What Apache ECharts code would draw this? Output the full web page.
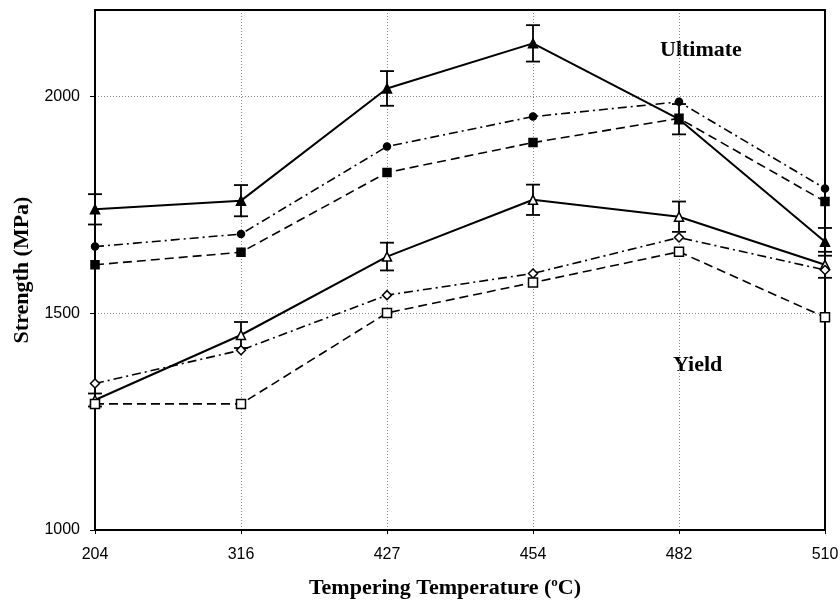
<!DOCTYPE html>
<html>
<head>
<meta charset="utf-8">
<script src="https://cdn.jsdelivr.net/npm/echarts@6/dist/echarts.min.js"></script>
<style>
  html, body { margin: 0; padding: 0; background: #fff; }
  #chart { width: 840px; height: 602px; }
</style>
</head>
<body>
<div id="chart"></div>
<script>
// Tempering temperatures (°C)
const temperatures = ['204', '316', '427', '454', '482', '510'];

// Ultimate tensile strength (MPa)
const ultimateA = [1740, 1760, 2019, 2123, 1948, 1665];
const ultimateAErr = [35, 36, 40, 42, 35, 32];
const ultimateB = [1654, 1683, 1885, 1954, 1988, 1788];
const ultimateC = [1612, 1641, 1825, 1894, 1950, 1758];

// Yield strength (MPa)
const yieldA = [1300, 1450, 1631, 1762, 1723, 1612];
const yieldAErr = [15, 30, 32, 35, 35, 30];
const yieldB = [1338, 1415, 1542, 1592, 1675, 1600];
const yieldC = [1291, 1291, 1501, 1571, 1642, 1491];

const yTicks = [1000, 1500, 2000];

const chart = echarts.init(document.getElementById('chart'));

function errorBars(values, errs) {
  return {
    type: 'custom',
    silent: true,
    z: 5,
    data: values.map((v, i) => [i, v - errs[i], v + errs[i]]),
    renderItem: function (params, api) {
      const lo = api.coord([api.value(0), api.value(1)]);
      const hi = api.coord([api.value(0), api.value(2)]);
      const cap = 7;
      const st = { stroke: '#000', lineWidth: 1.8 };
      return {
        type: 'group',
        children: [
          { type: 'line', shape: { x1: hi[0], y1: hi[1], x2: lo[0], y2: lo[1] }, style: st },
          { type: 'line', shape: { x1: hi[0] - cap, y1: hi[1], x2: hi[0] + cap, y2: hi[1] }, style: st },
          { type: 'line', shape: { x1: lo[0] - cap, y1: lo[1], x2: lo[0] + cap, y2: lo[1] }, style: st }
        ]
      };
    }
  };
}

function lineSeries(values, symbol, filled, dash, width, size) {
  return {
    type: 'line',
    data: values,
    symbol: symbol,
    symbolSize: size,
    showSymbol: true,
    z: 6,
    lineStyle: { color: '#000', width: width, type: dash },
    itemStyle: { color: filled ? '#000' : '#fff', borderColor: '#000', borderWidth: 1.5 }
  };
}

const dashDot = [9, 4, 2, 4];
const dashed = [9, 5];
const serif = '"Liberation Serif", "Times New Roman", serif';
const sans = '"Liberation Sans", Arial, sans-serif';

chart.setOption({
  animation: false,
  backgroundColor: '#fff',
  grid: { left: 95, right: 15, top: 10, bottom: 72, show: false, containLabel: false, outerBoundsMode: 'none' },
  xAxis: [{
    type: 'category',
    data: temperatures,
    boundaryGap: false,
    axisLine: { lineStyle: { color: '#000', width: 2 } },
    axisTick: { show: true, length: 4, lineStyle: { color: '#000' } },
    axisLabel: { color: '#000', fontFamily: sans, fontSize: 16, margin: 17 },
    splitLine: {
      show: true,
      interval: (i) => i > 0 && i < temperatures.length - 1,
      lineStyle: { color: '#888', type: [1, 2], width: 1 }
    },
    name: 'Tempering Temperature ({sup|o}C)',
    nameLocation: 'middle',
    nameGap: 46,
    nameTextStyle: {
      color: '#000', fontFamily: serif, fontSize: 22, fontWeight: 'bold',
      padding: [0, 30, 0, 0],
      rich: {
        sup: { fontFamily: serif, fontSize: 13, fontWeight: 'bold', verticalAlign: 'top', padding: [0, 0, 12, 0], color: '#000' }
      }
    }
  }, {
    // top frame edge
    type: 'category',
    data: temperatures,
    boundaryGap: false,
    position: 'top',
    axisLine: { lineStyle: { color: '#000', width: 2 } },
    axisTick: { show: false },
    axisLabel: { show: false },
    splitLine: { show: false }
  }],
  yAxis: [{
    type: 'value',
    min: 1000,
    max: 2200,
    interval: 500,
    axisLine: { show: true, lineStyle: { color: '#000', width: 2 } },
    axisTick: { show: true, length: 5, lineStyle: { color: '#000' } },
    axisLabel: {
      color: '#000', fontFamily: sans, fontSize: 16, margin: 15,
      showMaxLabel: false,
      formatter: v => (yTicks.indexOf(v) >= 0 ? String(v) : '')
    },
    splitLine: { show: true, lineStyle: { color: '#888', type: [1, 2], width: 1 } },
    name: 'Strength (MPa)',
    nameLocation: 'middle',
    nameGap: 60,
    nameTextStyle: { color: '#000', fontFamily: serif, fontSize: 22, fontWeight: 'bold' }
  }, {
    // right frame edge
    type: 'value',
    min: 1000,
    max: 2200,
    position: 'right',
    axisLine: { show: true, lineStyle: { color: '#000', width: 2 } },
    axisTick: { show: false },
    axisLabel: { show: false },
    splitLine: { show: false }
  }],
  graphic: [
    { type: 'text', left: 660, top: 39, style: { text: 'Ultimate', fill: '#000', font: 'bold 22px ' + serif } },
    { type: 'text', left: 673, top: 354, style: { text: 'Yield', fill: '#000', font: 'bold 22px ' + serif } }
  ],
  series: [
    lineSeries(ultimateA, 'triangle', true, 'solid', 2, 9),
    lineSeries(ultimateB, 'circle', true, dashDot, 1.6, 7),
    lineSeries(ultimateC, 'rect', true, dashed, 1.6, 8),
    lineSeries(yieldA, 'triangle', false, 'solid', 2, 9),
    lineSeries(yieldB, 'diamond', false, dashDot, 1.6, 9),
    lineSeries(yieldC, 'rect', false, dashed, 1.6, 9),
    errorBars(ultimateA, ultimateAErr),
    errorBars(yieldA, yieldAErr)
  ]
});
</script>
</body>
</html>
